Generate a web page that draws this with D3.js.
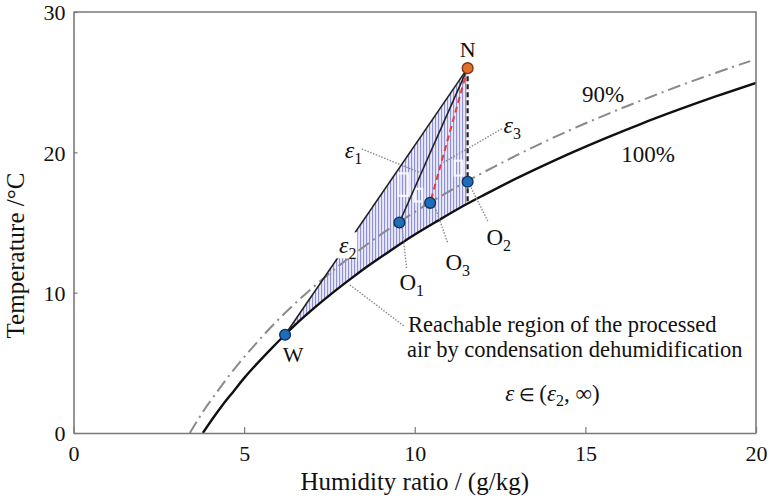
<!DOCTYPE html>
<html>
<head>
<meta charset="utf-8">
<script src="https://cdn.jsdelivr.net/npm/d3@7"></script>
<style>
  html, body { margin: 0; padding: 0; background: #fff; }
  svg { display: block; font-family: "Liberation Serif", "Times New Roman", serif; }
</style>
</head>
<body>
<svg id="chart" width="771" height="500"></svg>
<script>
// Saturation line (100 % RH): temperature (°C) and humidity ratio (g/kg)
const satT = [0, 1, 2, 3, 4, 5, 6, 7, 8, 9, 10, 11, 12, 13, 14, 15, 16, 17, 18, 19, 20, 21, 22, 23, 24, 24.95];
const satW = [3.79, 4.07, 4.37, 4.70, 5.03, 5.40, 5.79, 6.20, 6.63, 7.10, 7.60, 8.13, 8.69, 9.29, 9.91, 10.59, 11.29, 12.06, 12.86, 13.72, 14.62, 15.58, 16.60, 17.69, 18.84, 20.0];

// 90 % RH line
const rh90T = [0, 1, 2, 3, 4, 5, 6, 7, 8, 9, 10, 11, 12, 13, 14, 15, 16, 17, 18, 19, 20, 21, 22, 23, 24, 25, 26, 26.5];
const rh90W = [3.41, 3.66, 3.93, 4.23, 4.53, 4.86, 5.21, 5.58, 5.97, 6.39, 6.84, 7.32, 7.82, 8.36, 8.92, 9.53, 10.16, 10.85, 11.57, 12.35, 13.16, 14.02, 14.94, 15.92, 16.96, 18.05, 19.22, 19.83];

// State points
const pointNames = ["N", "W", "O1", "O3", "O2"];
const pointW = [11.55, 6.2, 9.55, 10.45, 11.55];
const pointT = [26.0, 7.0, 15.0, 16.4, 17.9];

// Foot of the constant humidity-ratio line from N on the saturation line
const footW = 11.55;
const footT = 16.37;

// Axis ticks
const xTicks = [0, 5, 10, 15, 20];
const yTicks = [0, 10, 20, 30];

// Dotted leader lines [w1, T1, w2, T2]
const leaderLines = [
  [9.62, 14.83, 9.76, 11.76],   // O1
  [10.59, 16.11, 10.97, 13.54], // O3
  [11.61, 17.68, 12.14, 15.11], // O2
  [8.45, 20.24, 10.17, 18.53],  // eps1
  [12.55, 21.67, 10.82, 19.25], // eps3
  [8.10, 10.55, 9.68, 7.63]     // reachable region
];

// Small white patches left inside the hatched area [w, T(top), dw, dT]
const whitePatches = [
  [9.52, 18.5, 0.29, 1.6],
  [10.0, 17.4, 0.22, 0.9],
  [11.17, 19.4, 0.22, 1.05]
];

const svg = d3.select("#chart");
const x = d3.scaleLinear().domain([0, 20]).range([73.5, 756]);
const y = d3.scaleLinear().domain([0, 30]).range([433, 12]);
const serif = "'Liberation Serif', 'Times New Roman', serif";

const defs = svg.append("defs");
defs.append("clipPath").attr("id", "plotClip")
  .append("rect").attr("x", x(0)).attr("y", y(30))
  .attr("width", x(20) - x(0)).attr("height", y(0) - y(30));

const pat = defs.append("pattern").attr("id", "hatch")
  .attr("patternUnits", "userSpaceOnUse").attr("width", 3).attr("height", 10);
pat.append("rect").attr("width", 3).attr("height", 10).attr("fill", "#e9e9f8");
pat.append("line").attr("x1", 0.6).attr("x2", 0.6).attr("y1", 0).attr("y2", 10)
  .attr("stroke", "#8587da").attr("stroke-width", 1);

const plot = svg.append("g").attr("clip-path", "url(#plotClip)");

// Reachable region: W -> N -> foot on the saturation line -> back along saturation line to W
const iN = 0, iW = 1;
const region = [[pointW[iW], pointT[iW]], [pointW[iN], pointT[iN]], [footW, footT]];
for (let i = satT.length - 1; i >= 0; i--) {
  if (satT[i] < footT && satT[i] > pointT[iW]) region.push([satW[i], satT[i]]);
}
plot.append("path")
  .attr("d", d3.line().x(d => x(d[0])).y(d => y(d[1]))(region) + "Z")
  .attr("fill", "url(#hatch)").attr("stroke", "none");

plot.append("g").selectAll("rect").data(whitePatches).join("rect")
  .attr("x", d => x(d[0])).attr("y", d => y(d[1]))
  .attr("width", d => x(d[0] + d[2]) - x(d[0])).attr("height", d => y(d[1] - d[3]) - y(d[1]))
  .attr("fill", "none").attr("stroke", "#fbfbff").attr("stroke-width", 2.2).attr("opacity", 0.9);

// RH curves
const curveLine = d3.line().x(d => x(d[0])).y(d => y(d[1])).curve(d3.curveCatmullRom);
plot.append("path")
  .attr("d", curveLine(rh90T.map((t, i) => [rh90W[i], t])))
  .attr("fill", "none").attr("stroke", "#8a8a8a").attr("stroke-width", 2)
  .attr("stroke-dasharray", "13,5,2,5");
plot.append("path")
  .attr("d", curveLine(satT.map((t, i) => [satW[i], t])))
  .attr("fill", "none").attr("stroke", "#111").attr("stroke-width", 2.4);

// Axes (framed box with inward ticks)
const axisColor = "#7a7a7a";
const xAxis = svg.append("g").attr("transform", `translate(0,${y(0)})`)
  .call(d3.axisBottom(x).tickValues(xTicks).tickSizeInner(-6).tickSizeOuter(0).tickPadding(12).tickFormat(d3.format("d")));
const yAxis = svg.append("g").attr("transform", `translate(${x(0)},0)`)
  .call(d3.axisLeft(y).tickValues(yTicks).tickSizeInner(-4).tickSizeOuter(0).tickPadding(8).tickFormat(d3.format("d")));
[xAxis, yAxis].forEach(g => {
  g.attr("font-family", serif).attr("font-size", 22);
  g.select(".domain").attr("stroke", axisColor).attr("stroke-width", 1.6);
  g.selectAll(".tick line").attr("stroke", axisColor).attr("stroke-width", 1.2);
  g.selectAll(".tick text").attr("fill", "#111");
});
yAxis.selectAll(".tick text").attr("dy", "0.36em");
svg.append("path")
  .attr("d", `M${x(0)},${y(30)}H${x(20)}V${y(0)}`)
  .attr("fill", "none").attr("stroke", axisColor).attr("stroke-width", 1.6);

svg.append("text").attr("x", (x(0) + x(20)) / 2).attr("y", 490)
  .attr("text-anchor", "middle").style("font-size", "25px").attr("fill", "#111")
  .text("Humidity ratio / (g/kg)");
svg.append("text").attr("transform", `translate(24,${(y(0) + y(30)) / 2 + 33}) rotate(-90)`)
  .attr("text-anchor", "middle").style("font-size", "25px").attr("fill", "#111")
  .text("Temperature /°C");

// Dotted leader lines
svg.append("g").selectAll("line").data(leaderLines).join("line")
  .attr("x1", d => x(d[0])).attr("y1", d => y(d[1]))
  .attr("x2", d => x(d[2])).attr("y2", d => y(d[3]))
  .attr("stroke", "#8c8c8c").attr("stroke-width", 1.4).attr("stroke-dasharray", "1.5,1.5");

// Process lines from N
const g = svg.append("g");
const Nx = x(pointW[iN]), Ny = y(pointT[iN]);
g.append("line").attr("x1", Nx).attr("y1", Ny).attr("x2", x(pointW[iW])).attr("y2", y(pointT[iW]))
  .attr("stroke", "#222").attr("stroke-width", 1.6);
g.append("line").attr("x1", Nx).attr("y1", Ny).attr("x2", x(pointW[2])).attr("y2", y(pointT[2]))
  .attr("stroke", "#222").attr("stroke-width", 1.6);
g.append("line").attr("x1", Nx).attr("y1", Ny).attr("x2", x(pointW[3])).attr("y2", y(pointT[3]))
  .attr("stroke", "#ee3a3a").attr("stroke-width", 2).attr("stroke-dasharray", "6,4");
g.append("line").attr("x1", Nx).attr("y1", Ny).attr("x2", x(footW)).attr("y2", y(footT))
  .attr("stroke", "#222").attr("stroke-width", 2.2).attr("stroke-dasharray", "5,3");

// Labels for the RH curves
const lab = svg.append("g").attr("fill", "#111");
lab.append("text").attr("x", x(14.9)).attr("y", y(23.6)).style("font-size", "23px").text("90%");
lab.append("text").attr("x", x(16.05)).attr("y", y(19.3)).style("font-size", "23px").text("100%");

// Epsilon labels (eps2 sits on a white patch over the N-W line)
function eps(sel, px, py, sub) {
  const t = sel.append("text").attr("x", px).attr("y", py).style("font-size", "24px");
  t.append("tspan").style("font-style", "italic").text("ε");
  t.append("tspan").attr("dy", 6).style("font-size", "16px").text(sub);
  return t;
}
lab.append("rect").attr("x", x(7.67)).attr("y", y(14.3)).attr("width", 22).attr("height", 26).attr("fill", "#fff");
eps(lab, x(7.78), y(12.85), "2");
eps(lab, x(7.95), y(19.6), "1");
eps(lab, x(12.6), y(21.35), "3");

// State points
svg.append("g").selectAll("circle").data(pointNames).join("circle")
  .attr("cx", (d, i) => x(pointW[i])).attr("cy", (d, i) => y(pointT[i])).attr("r", 5.4)
  .attr("fill", d => d === "N" ? "#e0702a" : "#1f6db8")
  .attr("stroke", d => d === "N" ? "#7a3210" : "#0b2f55").attr("stroke-width", 1.3);

// Point labels
function oLabel(px, py, sub) {
  const t = lab.append("text").attr("x", px).attr("y", py).style("font-size", "23px");
  t.append("tspan").text("O");
  t.append("tspan").attr("dy", 6).style("font-size", "16px").text(sub);
}
lab.append("text").attr("x", x(pointW[iN])).attr("y", y(pointT[iN]) - 11).attr("text-anchor", "middle")
  .style("font-size", "22px").text("N");
lab.append("text").attr("x", x(pointW[iW]) + 8).attr("y", y(pointT[iW]) + 27).attr("text-anchor", "middle")
  .style("font-size", "22px").text("W");
oLabel(x(9.55), y(10.2), "1");
oLabel(x(10.9), y(11.6), "3");
oLabel(x(12.1), y(13.4), "2");

// Annotation of the reachable region
const ann = lab.append("text").style("font-size", "22.5px");
ann.append("tspan").attr("x", x(9.8)).attr("y", y(7.2)).text("Reachable region of the processed");
ann.append("tspan").attr("x", x(9.77)).attr("y", y(5.45)).text("air by condensation dehumidification");
const setT = lab.append("text").attr("x", x(12.65)).attr("y", y(2.25)).style("font-size", "23px");
setT.append("tspan").style("font-style", "italic").text("ε");
setT.append("tspan").style("font-size", "18px").text(" ∈ ");
setT.append("tspan").text(" (");
setT.append("tspan").style("font-style", "italic").text("ε");
setT.append("tspan").attr("dy", 5).style("font-size", "16px").text("2");
setT.append("tspan").attr("dy", -5).text(", ∞)");
</script>
</body>
</html>
